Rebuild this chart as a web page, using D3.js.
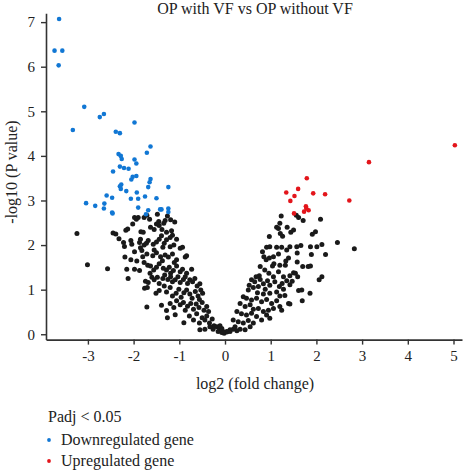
<!DOCTYPE html>
<html><head><meta charset="utf-8">
<script src="https://cdn.jsdelivr.net/npm/d3@7"></script>
<style>
html,body{margin:0;padding:0;background:#fff;}
text{font-family:"Liberation Serif","DejaVu Serif",serif;fill:#222;}
</style></head>
<body><svg id="c" width="463" height="470"></svg>
<script>
const titleText = "OP with VF vs OP without VF";
const xTicks = [-3,-2,-1,0,1,2,3,4,5];
const yTicks = [0,1,2,3,4,5,6,7];
const legendTitle = "Padj < 0.05";
const legendLabels = ["Downregulated gene","Upregulated gene"];

// [log2 fold change, -log10 P]
const down = [
[-3.63,7.07],[-3.73,6.36],[-3.56,6.36],[-3.64,6.03],[-3.08,5.10],[-3.33,4.58],[-2.74,4.87],[-2.65,4.94],
[-1.98,4.75],[-2.39,4.54],[-2.30,4.51],[-1.63,4.21],[-1.71,4.07],[-2.33,4.04],[-2.28,4.00],[-2.26,3.93],
[-1.98,3.92],[-1.94,3.83],[-2.45,3.65],[-2.30,3.76],[-2.21,3.73],[-2.11,3.71],[-2.02,3.53],[-1.94,3.55],
[-2.05,3.47],[-1.63,3.48],[-1.65,3.41],[-2.27,3.36],[-2.30,3.32],[-2.28,3.26],[-1.68,3.30],[-1.24,3.30],
[-2.16,3.21],[-1.93,3.18],[-2.59,3.11],[-2.47,3.06],[-1.75,3.09],[-2.06,3.04],[-1.90,3.04],[-1.50,3.05],
[-3.04,2.94],[-2.84,2.88],[-2.64,2.93],[-2.65,2.82],[-2.47,2.73],[-2.46,2.71],[-1.90,2.84],[-1.68,2.78],
[-1.73,2.69],[-1.42,2.80],[-1.39,2.80],[-1.24,2.82],[-1.24,2.74]
];
const up = [
[5.03,4.24],[3.15,3.86],[1.79,3.50],[1.60,3.26],[1.34,3.18],[1.93,3.16],[2.19,3.14],[1.52,3.10],
[1.43,2.99],[2.72,3.00],[1.77,2.87],[1.78,2.82],[1.83,2.78],[1.73,2.75],[1.51,2.71]
];
const ns = [
[-3.24,2.26],[-3.01,1.56],[-2.57,1.47],[-1.71,0.61],[-2.12,1.25],[-2.15,1.46],
[-1.98,2.62],[-1.90,2.62],[-1.77,2.62],[-1.71,2.67],[-1.65,2.58],[-1.48,2.69],[-1.45,2.53],[-1.31,2.55],[-1.26,2.65],[-1.19,2.57],[-1.10,2.52],
[-2.45,2.27],[-2.39,2.25],[-2.32,2.14],[-2.17,2.33],[-2.13,2.36],[-2.02,2.47],[-1.94,2.58],[-1.84,2.30],[-1.79,2.29],[-1.63,2.40],[-1.55,2.35],[-1.50,2.47],[-1.44,2.44],[-1.38,2.35],[-1.34,2.49],[-1.28,2.29],[-1.17,2.32],[-1.15,2.22],[-1.20,2.17],[-1.39,2.21],
[-2.22,2.06],[-2.20,1.97],[-2.06,2.10],[-2.04,2.02],[-1.87,2.06],[-1.85,2.13],[-1.77,2.00],[-1.72,2.04],[-1.68,2.10],[-1.57,2.02],[-1.50,2.07],[-1.44,2.13],[-1.33,2.04],[-1.28,2.12],[-1.20,1.96],[-1.12,2.00],[-1.06,2.13],[-0.98,1.93],[-0.93,1.95],[-1.36,1.95],
[-2.19,1.73],[-2.06,1.67],[-1.98,1.85],[-1.85,1.94],[-1.82,1.88],[-1.71,1.80],[-1.80,1.74],[-1.58,1.76],[-1.55,1.89],[-1.50,1.83],[-1.41,1.74],[-1.37,1.65],[-1.31,1.78],[-1.24,1.73],[-1.15,1.80],[-1.11,1.61],[-1.06,1.67],[-0.87,1.73],[-0.84,1.76],
[-1.98,1.46],[-1.93,1.64],[-1.87,1.43],[-1.77,1.61],[-1.69,1.55],[-1.63,1.53],[-1.56,1.44],[-1.50,1.50],[-1.44,1.58],[-1.35,1.48],[-1.28,1.44],[-1.22,1.50],[-1.19,1.37],[-1.13,1.43],[-1.06,1.53],[-0.98,1.40],[-0.93,1.46],[-0.84,1.37],[-0.73,1.46],
[-1.74,1.19],[-1.68,1.16],[-1.64,1.37],[-1.60,1.28],[-1.55,1.22],[-1.48,1.28],[-1.44,1.14],[-1.36,1.25],[-1.32,1.33],[-1.25,1.23],[-1.19,1.29],[-1.15,1.18],[-1.09,1.22],[-1.03,1.29],[-0.98,1.16],[-0.91,1.23],[-0.87,1.29],[-0.82,1.14],[-0.77,1.22],[-0.71,1.18],[-0.66,1.25],[-0.61,1.08],[-0.55,1.13],
[-1.76,1.03],[-1.70,1.05],[-1.51,0.92],[-1.44,0.98],[-1.33,1.08],[-1.28,0.95],[-1.20,1.05],[-1.15,0.86],[-1.07,0.92],[-1.01,1.01],[-0.96,0.83],[-0.90,0.93],[-0.84,0.99],[-0.77,0.90],[-0.72,0.81],[-0.65,0.96],[-0.59,0.86],[-0.53,0.99],[-0.49,0.92],[-0.56,0.78],
[-1.39,0.65],[-1.28,0.53],[-1.20,0.69],[-1.12,0.60],[-1.06,0.75],[-0.98,0.66],[-0.91,0.71],[-0.87,0.54],[-0.82,0.63],[-0.75,0.69],[-0.69,0.56],[-0.63,0.68],[-0.57,0.60],[-0.50,0.71],[-0.46,0.54],[-0.40,0.62],[-0.36,0.51],
[-1.26,0.37],[-1.09,0.44],[-0.90,0.26],[-0.78,0.41],[-0.69,0.32],[-0.62,0.46],[-0.56,0.25],[-0.50,0.37],[-0.44,0.32],[-0.40,0.41],[-0.34,0.25],[-0.28,0.34],[-0.24,0.19],[-0.18,0.17],[-0.12,0.13],[-0.33,0.17],
[-0.55,0.10],[-0.44,0.11],[-0.26,0.11],[-0.15,0.06],[-0.07,0.04],[-0.02,0.02],[0.04,0.05],[0.11,0.06],[0.18,0.11],
[1.23,2.65],[1.20,2.49],[1.13,2.40],[1.17,2.37],[1.21,2.26],[0.97,2.19],[1.26,2.20],[1.36,2.40],[1.44,2.29],[1.50,2.34],[1.56,2.67],[1.61,2.62],[1.71,2.55],[2.09,2.58],[1.98,2.30],[1.91,2.24],
[0.91,1.95],[0.98,1.96],[0.82,1.85],[1.13,1.95],[1.24,1.95],[0.85,1.74],[1.06,1.74],[1.17,1.80],[1.35,1.89],[1.42,1.96],[1.57,1.96],[1.66,1.99],[1.87,1.96],[2.01,1.96],[2.12,2.01],[2.20,1.79],[1.89,1.79],[1.58,1.82],[2.46,2.06],[2.83,1.92],
[0.90,1.67],[0.97,1.71],[1.07,1.58],[1.04,1.53],[0.77,1.52],[0.87,1.44],[0.96,1.37],[1.17,1.40],[1.20,1.55],[1.32,1.55],[1.33,1.64],[1.39,1.71],[1.58,1.62],[1.70,1.52],[1.82,1.52],[1.87,1.53],[1.50,1.38],[1.54,1.37],[1.59,1.29],[1.42,1.31],[1.28,1.29],[1.06,1.29],[0.75,1.31],[0.68,1.29],
[0.58,1.22],[0.65,1.18],[0.77,1.23],[0.84,1.13],[0.93,1.20],[0.98,1.10],[1.09,1.18],[1.19,1.07],[1.25,1.14],[1.35,1.20],[1.42,1.11],[1.47,1.19],[1.28,1.01],[0.88,1.01],[0.73,1.07],[0.62,1.05],[0.53,1.10],[0.51,0.99],[0.71,0.93],[0.84,0.90],[0.98,0.92],[1.13,0.95],[1.20,0.86],[1.31,0.87],[2.12,1.29],[2.06,1.22],[1.61,0.98],[1.68,0.99],[1.86,0.92],[1.69,0.75],
[0.40,0.84],[0.47,0.81],[0.58,0.77],[0.69,0.81],[0.80,0.73],[0.91,0.78],[1.02,0.69],[1.13,0.75],[1.20,0.62],[1.39,0.69],[1.42,0.68],[0.33,0.69],[0.44,0.62],[0.55,0.66],[0.62,0.56],[0.73,0.58],[0.84,0.51],[0.95,0.54],[1.06,0.58],[1.24,0.54],[0.26,0.51],[0.36,0.46],[0.47,0.43],[0.58,0.47],[0.69,0.40],[0.80,0.32],[0.91,0.43],[0.98,0.36],
[0.18,0.32],[0.29,0.28],[0.40,0.25],[0.51,0.31],[0.62,0.25],[0.22,0.17],[0.33,0.11],[0.44,0.10],[0.55,0.17],[0.11,0.10],[0.04,0.06],[-0.04,0.06],[-0.07,0.13],[0.26,0.08],[-0.11,0.19]
];

const svg = d3.select("#c");
const x = d3.scaleLinear().domain([-3.917, 5.186]).range([46, 462]);
const y = d3.scaleLinear().domain([-0.12, 7.2]).range([339.6, 13.2]);
const axisColor = "#333";

// axes
const gx = svg.append("g").attr("transform", `translate(0,${y(-0.12)})`)
  .call(d3.axisBottom(x).tickValues(xTicks).tickSize(5).tickPadding(6).tickSizeOuter(0).tickFormat(d3.format("d")));
const gy = svg.append("g").attr("transform", `translate(${x(-3.917)},0)`)
  .call(d3.axisLeft(y).tickValues(yTicks).tickSize(5).tickPadding(6).tickSizeOuter(0).tickFormat(d3.format("d")));
[gx, gy].forEach(g => {
  g.selectAll("path.domain").attr("stroke", axisColor).attr("stroke-width", 1.6);
  g.selectAll("line").attr("stroke", axisColor).attr("stroke-width", 1.4);
  g.selectAll("text").style("font-family", '"Liberation Serif",serif').style("font-size", "15px").attr("fill", "#222");
});
gx.selectAll("text").text(d => d < 0 ? "-" + Math.abs(d) : d);

const r = 2.5;
svg.append("g").selectAll("circle").data(ns).join("circle")
  .attr("cx", d => x(d[0])).attr("cy", d => y(d[1])).attr("r", r).attr("fill", "#1a1a1a");
svg.append("g").selectAll("circle").data(down).join("circle")
  .attr("cx", d => x(d[0])).attr("cy", d => y(d[1])).attr("r", 2.3).attr("fill", "#1177d4");
svg.append("g").selectAll("circle").data(up).join("circle")
  .attr("cx", d => x(d[0])).attr("cy", d => y(d[1])).attr("r", 2.3).attr("fill", "#e3151b");

// title and labels
svg.append("text").attr("x", 255).attr("y", 14).attr("text-anchor", "middle")
  .style("font-size", "16px").text(titleText);
svg.append("text").attr("x", 255).attr("y", 389).attr("text-anchor", "middle")
  .style("font-size", "16px").text("log2 (fold change)");
svg.append("text").attr("transform", "translate(17,172) rotate(-90)").attr("text-anchor", "middle")
  .style("font-size", "16px").text("-log10 (P value)");

// legend
svg.append("text").attr("x", 48).attr("y", 422).style("font-size", "16px").text(legendTitle);
const legColors = ["#1177d4", "#e3151b"];
legendLabels.forEach((lab, i) => {
  const cy = 440 + i * 21;
  svg.append("circle").attr("cx", 49).attr("cy", cy).attr("r", 1.9).attr("fill", legColors[i]);
  svg.append("text").attr("x", 61).attr("y", cy + 5).style("font-size", "16px").text(lab);
});
</script></body></html>
